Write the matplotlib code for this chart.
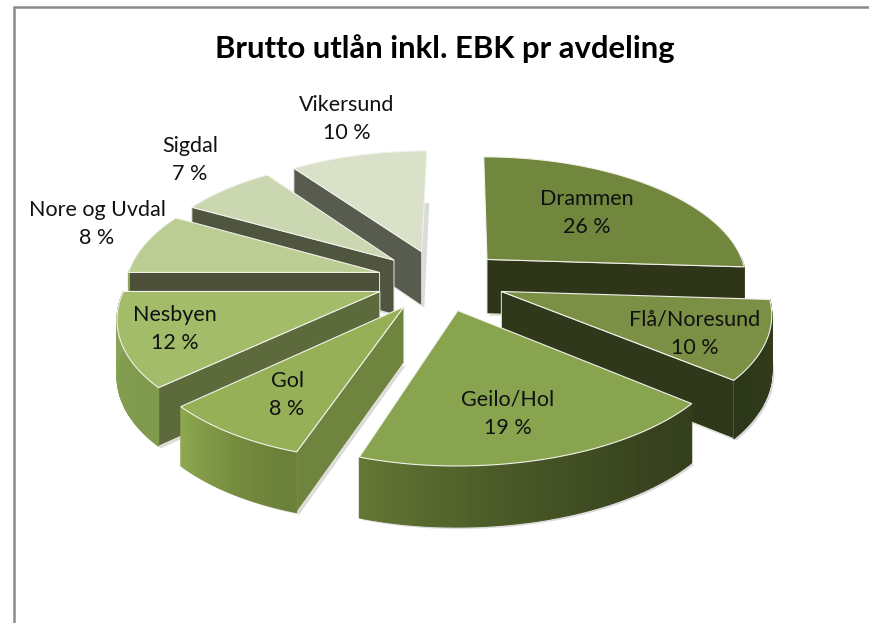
import numpy as np
import matplotlib
matplotlib.use("Agg")
import matplotlib.pyplot as plt
from matplotlib.patches import Polygon
from matplotlib.colors import to_rgb

title = "Brutto utlån inkl. EBK pr avdeling"
categories = ["Drammen", "Flå/Noresund", "Geilo/Hol", "Gol", "Nesbyen", "Nore og Uvdal", "Sigdal", "Vikersund"]
values = [26, 10, 19, 8, 12, 8, 7, 10]

top_colors = ["#72873e", "#7b9045", "#88a44f", "#95b057", "#a2bc69", "#bccd94", "#cad7b0", "#d9e1c8"]
cut_colors = ["#2e3519", "#2f381a", "#2f3a1a", "#6f843e", "#5c6a3c", "#4c5039", "#50553f", "#585c4f"]
outer_start = ["#2e3519", "#333d1d", "#343f1c", "#6b8038", "#7f9a4c", "#8ba55a", "#8ba55a", "#8ba55a"]
outer_end = ["#2e3519", "#2c3619", "#637734", "#8ea84f", "#8ba55a", "#8ba55a", "#8ba55a", "#8ba55a"]
label_pos = [(587, 213), (695, 334), (508, 414), (287, 395), (175, 329), (97, 224), (190, 160), (347, 119)]

CX, CY, RX, RY, KX, KY, KZ, H, EXPLODE = 440, 280, 262, 123, 0.16, 0.145, 0.08, 55, 0.25
SKEW_FRONT, SKEW_BACK, LEFT_SHRINK = 5, 3, 0.035


def project(x, y, z=0.0):
    scale = RX
    if x < 0:
        scale = RX * (1 - LEFT_SHRINK * np.clip(0.9 - y, 0, 0.9) / 0.9)
    skew = SKEW_FRONT if y < 0 else SKEW_BACK
    return (CX + scale * x / (1 + KX * y) + skew * y,
            CY - RY * y / (1 + KY * y) + H * z / (1 + KZ * y))


fig = plt.figure(figsize=(8.69, 6.23), dpi=100)
ax = fig.add_axes([0, 0, 1, 1])
ax.set_xlim(0, 869)
ax.set_ylim(623, 0)
ax.axis("off")

total = sum(values)
edges = np.concatenate([[0], np.cumsum(values)]) / total * 2 * np.pi
order = sorted(range(len(values)), key=lambda i: -np.cos((edges[i] + edges[i + 1]) / 2))


def mix(a, b, t):
    a, b = np.array(to_rgb(a)), np.array(to_rgb(b))
    return tuple(a + (b - a) * t)


for i in order:
    t1, t2 = edges[i], edges[i + 1]
    mid = (t1 + t2) / 2
    ax0, ay0 = EXPLODE * np.sin(mid), EXPLODE * np.cos(mid)
    th = np.linspace(t1, t2, 60)
    ox, oy = ax0 + np.sin(th), ay0 + np.cos(th)

    top = [project(ax0, ay0)] + [project(a, b) for a, b in zip(ox, oy)]
    bottom = [project(ax0, ay0, 1)] + [project(a, b, 1) for a, b in zip(ox, oy)]

    # soft shadow
    shadow = np.array(bottom) + np.array([2.5, 2])
    ax.add_patch(Polygon(shadow, closed=True, fc="#000000", ec="none", alpha=0.14, zorder=1))

    z = 10 + order.index(i) * 5
    # cut faces
    if np.sin(t1) < 0:
        q = [project(ax0, ay0), project(ox[0], oy[0]), project(ox[0], oy[0], 1), project(ax0, ay0, 1)]
        ax.add_patch(Polygon(q, closed=True, fc=cut_colors[i], ec="#e8e8e0", lw=0.7, zorder=z))
    if np.sin(t2) > 0:
        q = [project(ax0, ay0), project(ox[-1], oy[-1]), project(ox[-1], oy[-1], 1), project(ax0, ay0, 1)]
        ax.add_patch(Polygon(q, closed=True, fc=cut_colors[i], ec="#e8e8e0", lw=0.7, zorder=z))
    # outer rim with gradient
    for k in range(len(th) - 1):
        if np.cos((th[k] + th[k + 1]) / 2) < 0.02:
            c = mix(outer_start[i], outer_end[i], (k / (len(th) - 2)) ** 1.5)
            q = [project(ox[k], oy[k]), project(ox[k + 1], oy[k + 1]),
                 project(ox[k + 1], oy[k + 1], 1), project(ox[k], oy[k], 1)]
            ax.add_patch(Polygon(q, closed=True, fc=c, ec=c, lw=0.8, zorder=z + 1))
    # top face
    ax.add_patch(Polygon(top, closed=True, fc=top_colors[i], ec="#f2f2ea", lw=0.8, zorder=z + 2))

for name, v, (x, y) in zip(categories, values, label_pos):
    ax.text(x, y, f"{name}\n{v} %", ha="center", va="center", fontsize=15.5,
            family="Lato", color="#111111", linespacing=1.55, zorder=100)

ax.text(445, 49, title, ha="center", va="center", fontsize=22.3, family="Lato",
        fontweight="bold", color="black", zorder=100)

# chart frame
ax.plot([14, 14, 869], [623, 7, 7], color="#8a8a8a", lw=1.8, solid_joinstyle="miter", zorder=100)

fig.savefig("out.png", dpi=100, facecolor="white")
